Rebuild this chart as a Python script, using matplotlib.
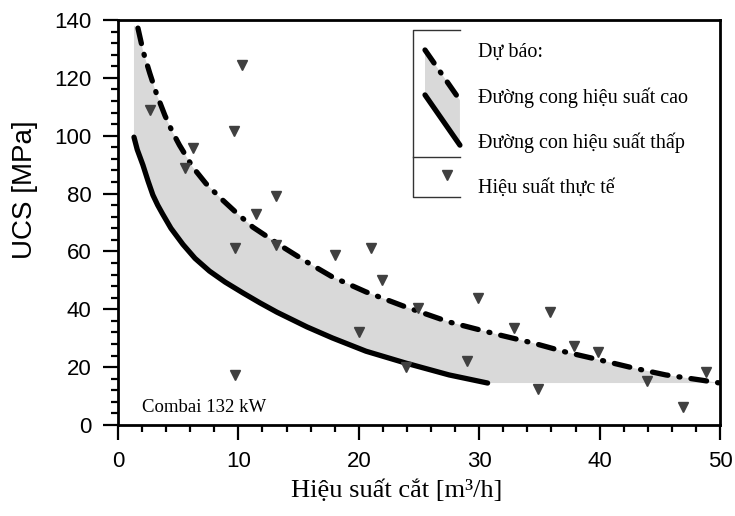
import numpy as np
import matplotlib
matplotlib.use("Agg")
import matplotlib.pyplot as plt
from matplotlib.ticker import MultipleLocator

# du lieu doc tu hinh
upper_x = [1.66, 2.1, 2.65, 3.2, 3.9, 4.5, 5.1, 6.2, 7.3, 8.5, 9.8, 11.2, 13.7, 15.7, 17.8,
           20.6, 23.9, 27.5, 31.7, 34.5, 37.2, 40.0, 42.8, 45.5, 48.3, 50.0]
upper_y = [137.2, 129.0, 121.5, 114.5, 107, 101.5, 96.8, 89.2, 83.5, 78.5, 73.5, 68.4, 61.5,
           56.3, 51.2, 46.0, 40.8, 35.6, 31.1, 28.3, 25.2, 22.5, 19.7, 17.3, 15.6, 14.5]
lower_x = [1.33, 1.6, 2.07, 2.5, 2.9, 3.3, 3.7, 4.4, 5.4, 6.4, 7.6, 8.9, 10.4, 11.8, 13.2,
           15.7, 17.8, 20.6, 23.9, 27.5, 30.7]
lower_y = [99.5, 95.2, 89.9, 84.3, 79.5, 76.0, 73.0, 68.0, 62.4, 57.6, 53.2, 49.4, 45.6,
           42.2, 39.0, 33.9, 30.1, 25.5, 21.4, 17.3, 14.5]
band_top_left = 138

meas_x = [2.7, 10.3, 9.6, 5.6, 6.2, 11.5, 13.1, 13.1, 9.7, 9.7, 18.0, 21.0, 21.9, 20.0,
          24.9, 23.9, 29.9, 29.0, 32.9, 35.9, 34.9, 37.9, 39.9, 43.9, 46.9, 48.8]
meas_y = [109, 124.5, 101.6, 88.8, 95.6, 73.0, 79.0, 62.2, 61.2, 17.3, 58.8, 61.2, 50.1, 32.1,
          40.4, 20.0, 43.9, 22.1, 33.5, 39.1, 12.4, 27.3, 25.2, 15.2, 6.2, 18.3]

legend_labels = ["Dự báo:", "Đường cong hiệu suất cao", "Đường con hiệu suất thấp", "Hiệu suất thực tế"]

serif = ["Liberation Serif", "DejaVu Serif"]
sans = ["Liberation Sans", "DejaVu Sans"]

fig = plt.figure(figsize=(7.35, 5.16), dpi=100)
ax = fig.add_axes([0.1605, 0.1764, 0.8191, 0.7848])

# vung xam giua hai duong
poly_x = [lower_x[0]] + upper_x + lower_x[::-1]
poly_y = [band_top_left] + upper_y + lower_y[::-1]
ax.fill(poly_x, poly_y, color="#d9d9d9", lw=0, zorder=1)

ax.plot(upper_x, upper_y, color="black", lw=3.8, dashes=(3, 2.1, 0.2, 2.1),
        dash_capstyle="round", solid_joinstyle="round", zorder=3)
ax.plot(lower_x, lower_y, color="black", lw=3.8, solid_capstyle="round",
        solid_joinstyle="round", zorder=3)
ax.plot(meas_x, meas_y, "v", color="#404040", ms=7.5, zorder=4)

ax.set_xlim(0, 50)
ax.set_ylim(0, 140)
ax.xaxis.set_major_locator(MultipleLocator(10))
ax.xaxis.set_minor_locator(MultipleLocator(2))
ax.yaxis.set_major_locator(MultipleLocator(20))
ax.yaxis.set_minor_locator(MultipleLocator(4))
ax.tick_params(which="major", length=11, width=1.6, pad=8, labelsize=16, direction="out")
ax.tick_params(which="minor", length=5, width=1.6, direction="out")
for lab in ax.get_xticklabels() + ax.get_yticklabels():
    lab.set_family(sans)
for s in ax.spines.values():
    s.set_linewidth(2)

ax.set_ylabel("UCS [MPa]", fontsize=20, family=sans)
ax.yaxis.set_label_coords(-0.133, 0.58)
ax.set_xlabel("Hiệu suất cắt [m³/h]", fontsize=19, family=serif)
ax.xaxis.set_label_coords(0.463, -0.135)

ax.text(0.04, 0.044, "Combai 132 kW", transform=ax.transAxes, fontsize=13.5,
        family=serif, va="center")

# chu giai ve tay
T = ax.transAxes
box_kw = dict(color="#333333", lw=1, transform=T, zorder=5)
ax.plot([0.568, 0.490, 0.490, 0.568], [0.975, 0.975, 0.563, 0.563], **box_kw)
ax.plot([0.490, 0.568], [0.662, 0.662], **box_kw)
ax.fill([0.510, 0.568, 0.568, 0.510], [0.926, 0.802, 0.691, 0.815], color="#d9d9d9",
        lw=0, transform=T, zorder=5)
ax.plot([0.510, 0.568], [0.926, 0.802], color="black", lw=3.8, dashes=(3, 2.1, 0.2, 2.1),
        dash_capstyle="round", transform=T, zorder=6)
ax.plot([0.510, 0.568], [0.815, 0.691], color="black", lw=3.8, solid_capstyle="round",
        transform=T, zorder=6)
ax.plot([0.547], [0.617], "v", color="#404040", ms=7.5, transform=T, zorder=6)
for lab, yy in zip(legend_labels, [0.919, 0.807, 0.696, 0.585]):
    ax.text(0.598, yy, lab, transform=T, fontsize=14.5, family=serif, va="center", zorder=6)

fig.savefig("out.png", dpi=100)
